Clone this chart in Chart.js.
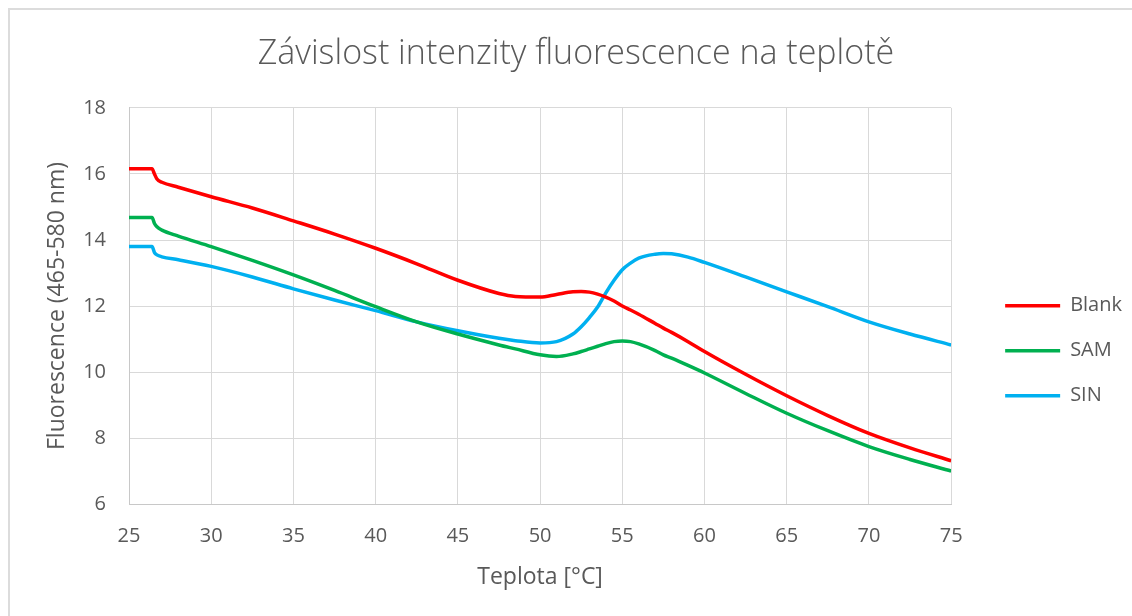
<!DOCTYPE html>
<html>
<head>
<meta charset="utf-8">
<script src="https://cdn.jsdelivr.net/npm/chart.js@4"></script>
<style>
  body { margin: 0; background: #fff; }
  #wrap { position: relative; width: 1132px; height: 616px; overflow: hidden; }
  #frame { position: absolute; left: 8px; top: 8px; width: 1300px; height: 800px; border: 2px solid #dcdcdc; }
  canvas { position: absolute; left: 0; top: 0; }
</style>
</head>
<body>
<div id="wrap">
  <div id="frame"></div>
  <canvas id="chart" width="1132" height="616"></canvas>
</div>
<script>
const temps = [25, 26.4, 26.55, 26.7, 27, 28, 30, 32.5, 35, 37.5, 40, 42.5, 45, 47.5, 48.5, 50, 51, 52, 52.5, 53, 53.5, 54, 54.5, 55, 55.5, 56, 57, 57.5, 58, 59, 60, 62.5, 65, 67.5, 70, 72.5, 75];
const blank = [16.16, 16.16, 16.0, 15.85, 15.75, 15.6, 15.31, 14.97, 14.58, 14.18, 13.75, 13.28, 12.78, 12.38, 12.29, 12.27, 12.35, 12.43, 12.44, 12.42, 12.36, 12.27, 12.15, 12.0, 11.88, 11.75, 11.47, 11.33, 11.2, 10.92, 10.62, 9.93, 9.28, 8.68, 8.14, 7.7, 7.31];
const sam = [14.68, 14.68, 14.5, 14.4, 14.3, 14.12, 13.8, 13.38, 12.94, 12.47, 11.98, 11.52, 11.15, 10.82, 10.7, 10.52, 10.47, 10.55, 10.62, 10.7, 10.78, 10.86, 10.92, 10.94, 10.92, 10.85, 10.65, 10.52, 10.42, 10.2, 9.97, 9.35, 8.75, 8.22, 7.74, 7.35, 7.0];
const sin = [13.8, 13.8, 13.62, 13.55, 13.49, 13.4, 13.2, 12.88, 12.52, 12.18, 11.86, 11.52, 11.25, 11.02, 10.95, 10.88, 10.92, 11.15, 11.37, 11.65, 11.97, 12.4, 12.78, 13.1, 13.3, 13.45, 13.57, 13.59, 13.58, 13.48, 13.32, 12.88, 12.43, 11.98, 11.52, 11.15, 10.82];
const seriesNames = ['Blank', 'SAM', 'SIN'];
const seriesColors = ['#ff0000', '#00b050', '#00b0f0'];

const textColor = '#595959';
const fontFamily = '"Open Sans", sans-serif';

const toPoints = (values) => temps.map((t, i) => ({ x: t, y: values[i] }));

const makeDataset = (name, values, color) => ({
    label: name,
    data: toPoints(values),
    borderColor: color,
    backgroundColor: color,
    borderWidth: 3.5,
    pointRadius: 0,
    cubicInterpolationMode: 'monotone'
});

new Chart(document.getElementById('chart').getContext('2d'), {
    type: 'line',
    data: {
        datasets: [
            makeDataset(seriesNames[0], blank, seriesColors[0]),
            makeDataset(seriesNames[1], sam, seriesColors[1]),
            makeDataset(seriesNames[2], sin, seriesColors[2])
        ]
    },
    options: {
        responsive: false,
        animation: false,
        layout: { padding: { left: 20 } },
        scales: {
            x: {
                type: 'linear',
                min: 25,
                max: 75,
                ticks: { stepSize: 5, padding: 20, color: textColor, font: { family: fontFamily, size: 20 } },
                grid: { color: '#d9d9d9', drawTicks: false },
                border: { color: '#c8c8c8' },
                title: {
                    display: true,
                    text: 'Teplota [°C]',
                    color: textColor,
                    font: { family: fontFamily, size: 23 },
                    padding: { top: 0, bottom: 25 }
                },
                afterFit: (scale) => { scale.height = 112; }
            },
            y: {
                min: 6,
                max: 18,
                ticks: { stepSize: 2, padding: 23, color: textColor, font: { family: fontFamily, size: 20 } },
                grid: { color: '#d9d9d9', drawTicks: false },
                border: { color: '#c8c8c8' },
                title: {
                    display: true,
                    text: 'Fluorescence (465-580 nm)',
                    color: textColor,
                    font: { family: fontFamily, size: 23 },
                    padding: { top: 24, bottom: 0 }
                },
                afterFit: (scale) => { scale.width = 109; }
            },
            // spacer between plot and legend
            gap: {
                type: 'linear',
                position: 'right',
                grid: { display: false },
                ticks: { display: false },
                border: { display: false },
                afterFit: (scale) => { scale.width = 29; }
            }
        },
        plugins: {
            title: {
                display: true,
                text: 'Závislost intenzity fluorescence na teplotě',
                color: textColor,
                font: { family: fontFamily, size: 34, weight: 300 },
                padding: { top: 34.4, bottom: 32.8 }
            },
            legend: {
                position: 'right',
                title: { display: true, text: ' ', font: { size: 12 }, padding: { top: 71, bottom: 0 } },
                labels: {
                    usePointStyle: true,
                    pointStyle: 'line',
                    boxWidth: 55,
                    pointStyleWidth: 55,
                    padding: 25,
                    color: textColor,
                    font: { family: fontFamily, size: 20 }
                }
            },
            tooltip: { enabled: false }
        }
    }
});
</script>
</body>
</html>
